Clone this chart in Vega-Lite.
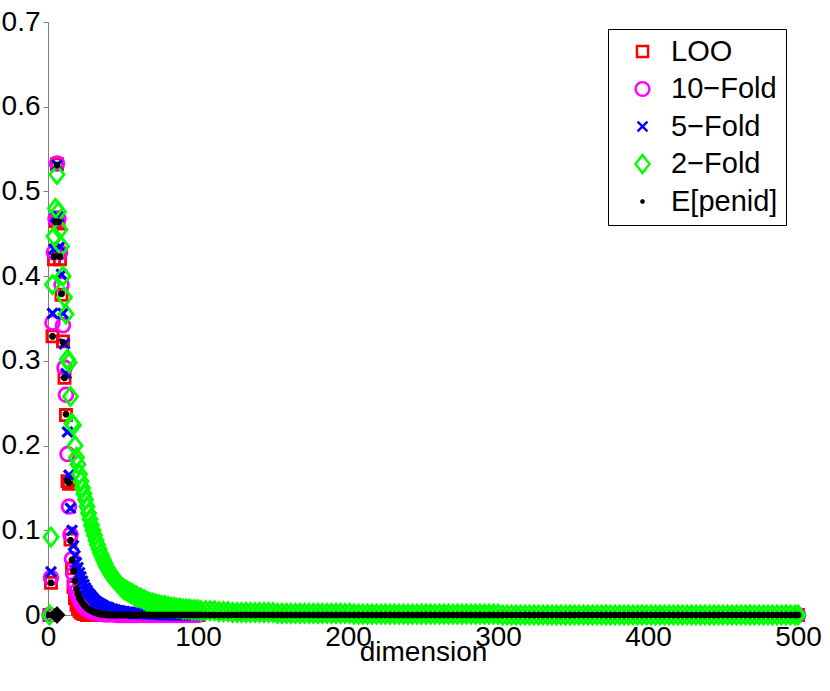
{
  "$schema": "https://vega.github.io/schema/vega-lite/v6.json",
  "width": 750,
  "height": 593,
  "autosize": {"type": "none"},
  "padding": {"left": 48, "top": 22, "right": 32, "bottom": 76},
  "background": "white",
  "config": {
    "view": {"stroke": null},
    "font": "Liberation Sans"
  },
  "data": {
    "values": [
      {"d": 1, "loo": 0, "f10": 0, "f5": 0, "f2": 0, "pen": 0},
      {"d": 2, "loo": 0.038, "f10": 0.044, "f5": 0.051, "f2": 0.092, "pen": 0.038},
      {"d": 3, "loo": 0.329, "f10": 0.345, "f5": 0.356, "f2": 0.39, "pen": 0.329},
      {"d": 4, "loo": 0.42, "f10": 0.428, "f5": 0.432, "f2": 0.447, "pen": 0.423},
      {"d": 5, "loo": 0.465, "f10": 0.468, "f5": 0.47, "f2": 0.48, "pen": 0.464},
      {"d": 6, "loo": 0.532, "f10": 0.533, "f5": 0.531, "f2": 0.52, "pen": 0.531},
      {"d": 7, "loo": 0.462, "f10": 0.468, "f5": 0.47, "f2": 0.476, "pen": 0.464},
      {"d": 8, "loo": 0.42, "f10": 0.428, "f5": 0.435, "f2": 0.455, "pen": 0.423},
      {"d": 9, "loo": 0.378, "f10": 0.39, "f5": 0.402, "f2": 0.435, "pen": 0.379},
      {"d": 10, "loo": 0.323, "f10": 0.342, "f5": 0.356, "f2": 0.4, "pen": 0.322},
      {"d": 11, "loo": 0.28, "f10": 0.292, "f5": 0.32, "f2": 0.375, "pen": 0.28},
      {"d": 12, "loo": 0.236, "f10": 0.26, "f5": 0.285, "f2": 0.355, "pen": 0.237},
      {"d": 13, "loo": 0.158, "f10": 0.19, "f5": 0.216, "f2": 0.302, "pen": 0.158},
      {"d": 14, "loo": 0.155, "f10": 0.128, "f5": 0.165, "f2": 0.298, "pen": 0.156},
      {"d": 15, "loo": 0.089, "f10": 0.095, "f5": 0.126, "f2": 0.258, "pen": 0.088},
      {"d": 16, "loo": 0.055, "f10": 0.066, "f5": 0.1, "f2": 0.226, "pen": 0.065},
      {"d": 17, "loo": 0.033, "f10": 0.048, "f5": 0.082, "f2": 0.224, "pen": 0.052},
      {"d": 18, "loo": 0.02, "f10": 0.036, "f5": 0.07, "f2": 0.2, "pen": 0.04},
      {"d": 19, "loo": 0.012, "f10": 0.028, "f5": 0.062, "f2": 0.186, "pen": 0.031},
      {"d": 20, "loo": 0.008, "f10": 0.022, "f5": 0.056, "f2": 0.178, "pen": 0.025},
      {"d": 21, "loo": 0.005, "f10": 0.018, "f5": 0.05, "f2": 0.166, "pen": 0.02},
      {"d": 22, "loo": 0.003, "f10": 0.015, "f5": 0.045, "f2": 0.158, "pen": 0.017},
      {"d": 23, "loo": 0.002, "f10": 0.012, "f5": 0.04, "f2": 0.15, "pen": 0.014},
      {"d": 24, "loo": 0.001, "f10": 0.01, "f5": 0.036, "f2": 0.143, "pen": 0.012},
      {"d": 25, "loo": 0.001, "f10": 0.008, "f5": 0.032, "f2": 0.136, "pen": 0.01},
      {"d": 26, "loo": 0, "f10": 0.007, "f5": 0.029, "f2": 0.128, "pen": 0.008},
      {"d": 27, "loo": 0, "f10": 0.006, "f5": 0.026, "f2": 0.12, "pen": 0.007},
      {"d": 28, "loo": 0, "f10": 0.005, "f5": 0.024, "f2": 0.113, "pen": 0.006},
      {"d": 29, "loo": 0, "f10": 0.004, "f5": 0.022, "f2": 0.106, "pen": 0.005},
      {"d": 30, "loo": 0, "f10": 0.004, "f5": 0.02, "f2": 0.1, "pen": 0.004},
      {"d": 31, "loo": 0, "f10": 0.003, "f5": 0.018, "f2": 0.094, "pen": 0.003},
      {"d": 32, "loo": 0, "f10": 0.003, "f5": 0.016, "f2": 0.088, "pen": 0.003},
      {"d": 33, "loo": 0, "f10": 0.002, "f5": 0.015, "f2": 0.083, "pen": 0.002},
      {"d": 34, "loo": 0, "f10": 0.002, "f5": 0.014, "f2": 0.078, "pen": 0.002},
      {"d": 35, "loo": 0, "f10": 0.002, "f5": 0.013, "f2": 0.073, "pen": 0.001},
      {"d": 36, "loo": 0, "f10": 0.002, "f5": 0.012, "f2": 0.069, "pen": 0.001},
      {"d": 37, "loo": 0, "f10": 0.001, "f5": 0.011, "f2": 0.065, "pen": 0.001},
      {"d": 38, "loo": 0, "f10": 0.001, "f5": 0.01, "f2": 0.061, "pen": 0.001},
      {"d": 39, "loo": 0, "f10": 0.001, "f5": 0.009, "f2": 0.057, "pen": 0},
      {"d": 40, "loo": 0, "f10": 0.001, "f5": 0.009, "f2": 0.054, "pen": 0},
      {"d": 41, "loo": 0, "f10": 0.001, "f5": 0.008, "f2": 0.051, "pen": 0},
      {"d": 42, "loo": 0, "f10": 0.001, "f5": 0.007, "f2": 0.048, "pen": 0},
      {"d": 43, "loo": 0, "f10": 0.001, "f5": 0.007, "f2": 0.045, "pen": 0},
      {"d": 44, "loo": 0, "f10": 0.001, "f5": 0.006, "f2": 0.043, "pen": 0},
      {"d": 45, "loo": 0, "f10": 0.001, "f5": 0.006, "f2": 0.041, "pen": 0},
      {"d": 46, "loo": 0, "f10": 0, "f5": 0.005, "f2": 0.039, "pen": 0},
      {"d": 47, "loo": 0, "f10": 0, "f5": 0.005, "f2": 0.037, "pen": 0},
      {"d": 48, "loo": 0, "f10": 0, "f5": 0.005, "f2": 0.035, "pen": 0},
      {"d": 49, "loo": 0, "f10": 0, "f5": 0.004, "f2": 0.033, "pen": 0},
      {"d": 50, "loo": 0, "f10": 0, "f5": 0.004, "f2": 0.031, "pen": 0},
      {"d": 51, "loo": 0, "f10": 0, "f5": 0.004, "f2": 0.03, "pen": 0},
      {"d": 52, "loo": 0, "f10": 0, "f5": 0.003, "f2": 0.029, "pen": 0},
      {"d": 53, "loo": 0, "f10": 0, "f5": 0.003, "f2": 0.028, "pen": 0},
      {"d": 54, "loo": 0, "f10": 0, "f5": 0.003, "f2": 0.027, "pen": 0},
      {"d": 55, "loo": 0, "f10": 0, "f5": 0.003, "f2": 0.026, "pen": 0},
      {"d": 56, "loo": 0, "f10": 0, "f5": 0.002, "f2": 0.025, "pen": 0},
      {"d": 57, "loo": 0, "f10": 0, "f5": 0.002, "f2": 0.024, "pen": 0},
      {"d": 58, "loo": 0, "f10": 0, "f5": 0.002, "f2": 0.023, "pen": 0},
      {"d": 59, "loo": 0, "f10": 0, "f5": 0.002, "f2": 0.022, "pen": 0},
      {"d": 60, "loo": 0, "f10": 0, "f5": 0.002, "f2": 0.021, "pen": 0},
      {"d": 62, "loo": 0, "f10": 0, "f5": 0.002, "f2": 0.02, "pen": 0},
      {"d": 64, "loo": 0, "f10": 0, "f5": 0.002, "f2": 0.018, "pen": 0},
      {"d": 66, "loo": 0, "f10": 0, "f5": 0.001, "f2": 0.016, "pen": 0},
      {"d": 68, "loo": 0, "f10": 0, "f5": 0.001, "f2": 0.015, "pen": 0},
      {"d": 70, "loo": 0, "f10": 0, "f5": 0.001, "f2": 0.014, "pen": 0},
      {"d": 72, "loo": 0, "f10": 0, "f5": 0.001, "f2": 0.013, "pen": 0},
      {"d": 74, "loo": 0, "f10": 0, "f5": 0.001, "f2": 0.012, "pen": 0},
      {"d": 76, "loo": 0, "f10": 0, "f5": 0, "f2": 0.011, "pen": 0},
      {"d": 78, "loo": 0, "f10": 0, "f5": 0, "f2": 0.011, "pen": 0},
      {"d": 80, "loo": 0, "f10": 0, "f5": 0, "f2": 0.01, "pen": 0},
      {"d": 82, "loo": 0, "f10": 0, "f5": 0, "f2": 0.009, "pen": 0},
      {"d": 84, "loo": 0, "f10": 0, "f5": 0, "f2": 0.009, "pen": 0},
      {"d": 86, "loo": 0, "f10": 0, "f5": 0, "f2": 0.008, "pen": 0},
      {"d": 88, "loo": 0, "f10": 0, "f5": 0, "f2": 0.008, "pen": 0},
      {"d": 90, "loo": 0, "f10": 0, "f5": 0, "f2": 0.007, "pen": 0},
      {"d": 92, "loo": 0, "f10": 0, "f5": 0, "f2": 0.007, "pen": 0},
      {"d": 94, "loo": 0, "f10": 0, "f5": 0, "f2": 0.007, "pen": 0},
      {"d": 96, "loo": 0, "f10": 0, "f5": 0, "f2": 0.006, "pen": 0},
      {"d": 98, "loo": 0, "f10": 0, "f5": 0, "f2": 0.006, "pen": 0},
      {"d": 100, "loo": 0, "f10": 0, "f5": 0, "f2": 0.006, "pen": 0},
      {"d": 102, "f2": 0.005, "pen": 0},
      {"d": 105, "f2": 0.005, "pen": 0},
      {"d": 108, "f2": 0.005, "pen": 0},
      {"d": 111, "f2": 0.005, "pen": 0},
      {"d": 114, "f2": 0.004, "pen": 0},
      {"d": 117, "f2": 0.004, "pen": 0},
      {"d": 120, "f2": 0.004, "pen": 0},
      {"d": 123, "f2": 0.003, "pen": 0},
      {"d": 126, "f2": 0.003, "pen": 0},
      {"d": 129, "f2": 0.003, "pen": 0},
      {"d": 132, "f2": 0.003, "pen": 0},
      {"d": 135, "f2": 0.003, "pen": 0},
      {"d": 138, "f2": 0.003, "pen": 0},
      {"d": 141, "f2": 0.003, "pen": 0},
      {"d": 144, "f2": 0.003, "pen": 0},
      {"d": 147, "f2": 0.003, "pen": 0},
      {"d": 150, "f2": 0.003, "pen": 0},
      {"d": 153, "f2": 0.002, "pen": 0},
      {"d": 156, "f2": 0.002, "pen": 0},
      {"d": 159, "f2": 0.002, "pen": 0},
      {"d": 162, "f2": 0.002, "pen": 0},
      {"d": 165, "f2": 0.002, "pen": 0},
      {"d": 168, "f2": 0.002, "pen": 0},
      {"d": 171, "f2": 0.002, "pen": 0},
      {"d": 174, "f2": 0.002, "pen": 0},
      {"d": 177, "f2": 0.002, "pen": 0},
      {"d": 180, "f2": 0.002, "pen": 0},
      {"d": 183, "f2": 0.002, "pen": 0},
      {"d": 186, "f2": 0.002, "pen": 0},
      {"d": 189, "f2": 0.002, "pen": 0},
      {"d": 192, "f2": 0.002, "pen": 0},
      {"d": 195, "f2": 0.002, "pen": 0},
      {"d": 198, "f2": 0.002, "pen": 0},
      {"d": 201, "f2": 0.002, "pen": 0},
      {"d": 204, "f2": 0.001, "pen": 0},
      {"d": 207, "f2": 0.001, "pen": 0},
      {"d": 210, "f2": 0.001, "pen": 0},
      {"d": 213, "f2": 0.001, "pen": 0},
      {"d": 216, "f2": 0.001, "pen": 0},
      {"d": 219, "f2": 0.001, "pen": 0},
      {"d": 222, "f2": 0.001, "pen": 0},
      {"d": 225, "f2": 0.001, "pen": 0},
      {"d": 228, "f2": 0.001, "pen": 0},
      {"d": 231, "f2": 0.001, "pen": 0},
      {"d": 234, "f2": 0.001, "pen": 0},
      {"d": 237, "f2": 0.001, "pen": 0},
      {"d": 240, "f2": 0.001, "pen": 0},
      {"d": 243, "f2": 0.001, "pen": 0},
      {"d": 246, "f2": 0.001, "pen": 0},
      {"d": 249, "f2": 0.001, "pen": 0},
      {"d": 252, "f2": 0.001, "pen": 0},
      {"d": 255, "f2": 0.001, "pen": 0},
      {"d": 258, "f2": 0.001, "pen": 0},
      {"d": 261, "f2": 0.001, "pen": 0},
      {"d": 264, "f2": 0.001, "pen": 0},
      {"d": 267, "f2": 0.001, "pen": 0},
      {"d": 270, "f2": 0.001, "pen": 0},
      {"d": 273, "f2": 0.001, "pen": 0},
      {"d": 276, "f2": 0.001, "pen": 0},
      {"d": 279, "f2": 0.001, "pen": 0},
      {"d": 282, "f2": 0.001, "pen": 0},
      {"d": 285, "f2": 0.001, "pen": 0},
      {"d": 288, "f2": 0.001, "pen": 0},
      {"d": 291, "f2": 0.001, "pen": 0},
      {"d": 294, "f2": 0.001, "pen": 0},
      {"d": 297, "f2": 0.001, "pen": 0},
      {"d": 300, "f2": 0.001, "pen": 0},
      {"d": 303, "f2": 0, "pen": 0},
      {"d": 306, "f2": 0, "pen": 0},
      {"d": 309, "f2": 0, "pen": 0},
      {"d": 312, "f2": 0, "pen": 0},
      {"d": 315, "f2": 0, "pen": 0},
      {"d": 318, "f2": 0, "pen": 0},
      {"d": 321, "f2": 0, "pen": 0},
      {"d": 324, "f2": 0, "pen": 0},
      {"d": 327, "f2": 0, "pen": 0},
      {"d": 330, "f2": 0, "pen": 0},
      {"d": 333, "f2": 0, "pen": 0},
      {"d": 336, "f2": 0, "pen": 0},
      {"d": 339, "f2": 0, "pen": 0},
      {"d": 342, "f2": 0, "pen": 0},
      {"d": 345, "f2": 0, "pen": 0},
      {"d": 348, "f2": 0, "pen": 0},
      {"d": 351, "f2": 0, "pen": 0},
      {"d": 354, "f2": 0, "pen": 0},
      {"d": 357, "f2": 0, "pen": 0},
      {"d": 360, "f2": 0, "pen": 0},
      {"d": 363, "f2": 0, "pen": 0},
      {"d": 366, "f2": 0, "pen": 0},
      {"d": 369, "f2": 0, "pen": 0},
      {"d": 372, "f2": 0, "pen": 0},
      {"d": 375, "f2": 0, "pen": 0},
      {"d": 378, "f2": 0, "pen": 0},
      {"d": 381, "f2": 0, "pen": 0},
      {"d": 384, "f2": 0, "pen": 0},
      {"d": 387, "f2": 0, "pen": 0},
      {"d": 390, "f2": 0, "pen": 0},
      {"d": 393, "f2": 0, "pen": 0},
      {"d": 396, "f2": 0, "pen": 0},
      {"d": 399, "f2": 0, "pen": 0},
      {"d": 402, "f2": 0, "pen": 0},
      {"d": 405, "f2": 0, "pen": 0},
      {"d": 408, "f2": 0, "pen": 0},
      {"d": 411, "f2": 0, "pen": 0},
      {"d": 414, "f2": 0, "pen": 0},
      {"d": 417, "f2": 0, "pen": 0},
      {"d": 420, "f2": 0, "pen": 0},
      {"d": 423, "f2": 0, "pen": 0},
      {"d": 426, "f2": 0, "pen": 0},
      {"d": 429, "f2": 0, "pen": 0},
      {"d": 432, "f2": 0, "pen": 0},
      {"d": 435, "f2": 0, "pen": 0},
      {"d": 438, "f2": 0, "pen": 0},
      {"d": 441, "f2": 0, "pen": 0},
      {"d": 444, "f2": 0, "pen": 0},
      {"d": 447, "f2": 0, "pen": 0},
      {"d": 450, "f2": 0, "pen": 0},
      {"d": 453, "f2": 0, "pen": 0},
      {"d": 456, "f2": 0, "pen": 0},
      {"d": 459, "f2": 0, "pen": 0},
      {"d": 462, "f2": 0, "pen": 0},
      {"d": 465, "f2": 0, "pen": 0},
      {"d": 468, "f2": 0, "pen": 0},
      {"d": 471, "f2": 0, "pen": 0},
      {"d": 474, "f2": 0, "pen": 0},
      {"d": 477, "f2": 0, "pen": 0},
      {"d": 480, "f2": 0, "pen": 0},
      {"d": 483, "f2": 0, "pen": 0},
      {"d": 486, "f2": 0, "pen": 0},
      {"d": 489, "f2": 0, "pen": 0},
      {"d": 492, "f2": 0, "pen": 0},
      {"d": 495, "f2": 0, "pen": 0},
      {"d": 498, "f2": 0, "pen": 0},
      {"d": 500, "loo": 0, "f10": 0, "f5": 0, "f2": 0, "pen": 0}
    ]
  },
  "encoding": {
    "x": {
      "field": "d",
      "type": "quantitative",
      "scale": {"domain": [0, 500], "nice": false, "zero": false},
      "axis": {
        "values": [0, 100, 200, 300, 400, 500],
        "title": "dimension",
        "titleFontSize": 28,
        "titleFontWeight": "normal",
        "titleColor": "black",
        "titleY": 45,
        "titleBaseline": "alphabetic",
        "labelFontSize": 28,
        "labelColor": "black",
        "labelPadding": 8,
        "labelFlush": false,
        "labelOverlap": false,
        "ticks": false,
        "tickSize": 0,
        "grid": false,
        "domainColor": "#808080"
      }
    },
    "y": {
      "field": "v",
      "type": "quantitative",
      "scale": {"domain": [0, 0.7], "nice": false},
      "axis": {
        "values": [0, 0.1, 0.2, 0.3, 0.4, 0.5, 0.6, 0.7],
        "format": "~g",
        "title": null,
        "labelFontSize": 28,
        "labelColor": "black",
        "labelPadding": 3,
        "labelFlush": false,
        "labelOverlap": false,
        "tickSize": 5,
        "tickColor": "#808080",
        "domainColor": "#808080",
        "grid": false
      }
    },
    "color": {
      "field": "m",
      "type": "nominal",
      "scale": {
        "domain": ["loo", "f10", "f5", "f2", "pen"],
        "range": ["#ff0000", "#ff00ff", "#0000ff", "#00ff00", "#000000"]
      },
      "legend": {
        "title": null,
        "orient": "none",
        "legendX": 560,
        "legendY": 7,
        "padding": 8,
        "symbolOffset": 12,
        "labelOffset": 14,
        "rowPadding": 7.5,
        "symbolSize": 220,
        "symbolStrokeWidth": 2.4,
        "labelFontSize": 29,
        "labelColor": "black",
        "strokeColor": "#000000",
        "fillColor": "white",
        "labelExpr": "datum.label == 'loo' ? 'LOO' : datum.label == 'f10' ? '10−Fold' : datum.label == 'f5' ? '5−Fold' : datum.label == 'f2' ? '2−Fold' : 'E[penid]'"
      }
    },
    "shape": {
      "field": "m",
      "type": "nominal",
      "scale": {
        "domain": ["loo", "f10", "f5", "f2", "pen"],
        "range": [
          "M-0.75,-0.75H0.75V0.75H-0.75Z",
          "M-0.93,0A0.93,0.93 0 1,0 0.93,0A0.93,0.93 0 1,0 -0.93,0Z",
          "M-0.67,-0.67L0.67,0.67M0.67,-0.67L-0.67,0.67",
          "M0,-1.22L0.95,0L0,1.22L-0.95,0Z",
          "M-0.14,-0.058L-0.058,-0.14L0.058,-0.14L0.14,-0.058L0.14,0.058L0.058,0.14L-0.058,0.14L-0.14,0.058Z"
        ]
      },
      "legend": {
        "title": null,
        "orient": "none",
        "legendX": 560,
        "legendY": 7,
        "padding": 8,
        "symbolOffset": 12,
        "labelOffset": 14,
        "rowPadding": 7.5,
        "symbolSize": 220,
        "symbolStrokeWidth": 2.4,
        "labelFontSize": 29,
        "labelColor": "black",
        "strokeColor": "#000000",
        "fillColor": "white",
        "labelExpr": "datum.label == 'loo' ? 'LOO' : datum.label == 'f10' ? '10−Fold' : datum.label == 'f5' ? '5−Fold' : datum.label == 'f2' ? '2−Fold' : 'E[penid]'"
      }
    }
  },
  "layer": [
    {
      "transform": [{"fold": ["loo"], "as": ["m", "v"]}],
      "mark": {"type": "point", "filled": false, "size": 220, "opacity": 1},
      "encoding": {"strokeWidth": {"value": 2.8}}
    },
    {
      "transform": [{"fold": ["f10"], "as": ["m", "v"]}],
      "mark": {"type": "point", "filled": false, "size": 220, "opacity": 1},
      "encoding": {"strokeWidth": {"value": 2.8}}
    },
    {
      "transform": [{"fold": ["f5"], "as": ["m", "v"]}],
      "mark": {"type": "point", "filled": false, "size": 220, "opacity": 1},
      "encoding": {"strokeWidth": {"value": 3.2}}
    },
    {
      "transform": [{"fold": ["f2"], "as": ["m", "v"]}],
      "mark": {"type": "point", "filled": false, "size": 220, "opacity": 1},
      "encoding": {"strokeWidth": {"value": 2.8}}
    },
    {
      "transform": [{"fold": ["pen"], "as": ["m", "v"]}],
      "mark": {"type": "point", "filled": false, "size": 220, "opacity": 1},
      "encoding": {"strokeWidth": {"value": 4.6}}
    },
    {
      "data": {"values": [{"d": 6, "v": 0}]},
      "mark": {"type": "point", "filled": true, "size": 220, "opacity": 1},
      "encoding": {
        "color": {"value": "#000000"},
        "shape": {"value": "M0,-1.2L1.15,0L0,1.2L-1.15,0Z"}
      }
    }
  ]
}
